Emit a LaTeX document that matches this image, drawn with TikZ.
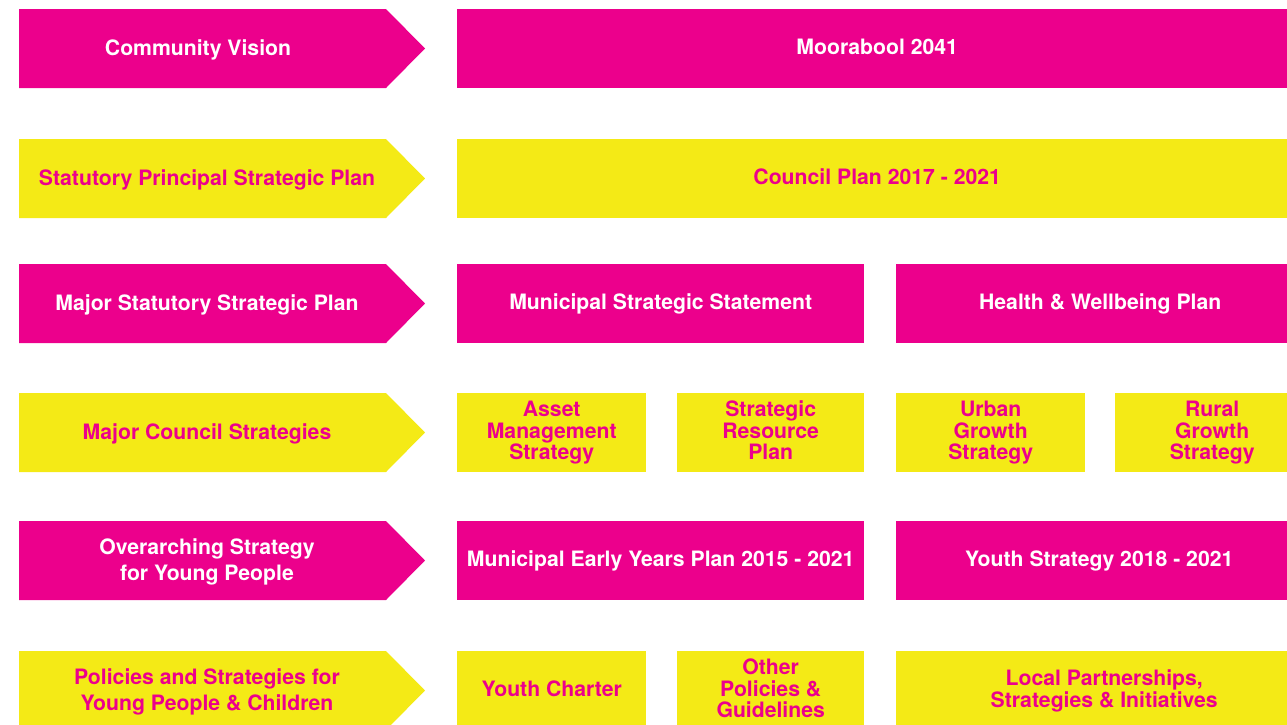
\documentclass[tikz,border=0pt]{standalone}
\usepackage{fontspec}
\setmainfont{TeX Gyre Heros}
\usetikzlibrary{positioning}

\definecolor{moormagenta}{HTML}{EC008C}
\definecolor{mooryellow}{HTML}{F4EA16}

\begin{document}
\begin{tikzpicture}[x=1pt, y=-1pt,
    lvl/.style={font=\fontsize{21.2}{26}\selectfont\bfseries, align=center, inner sep=0pt},
    box/.style={font=\fontsize{21.2}{21.5}\selectfont\bfseries, align=center, inner sep=0pt,
                text depth=4.5pt, anchor=north west, minimum height=79},
    pink/.style={fill=moormagenta, text=white},
    yel/.style={fill=mooryellow, text=moormagenta}]
  \useasboundingbox (0,0) rectangle (1287,724);

  % level arrows down the left side
  \foreach \ty/\tx/\col/\nm/\txt in {
      9/198/pink/vision/{Community Vision},
      139/207/yel/principal/{Statutory Principal Strategic Plan},
      264/207/pink/statutory/{Major Statutory Strategic Plan},
      393/207/yel/council/{Major Council Strategies},
      521/207/pink/overarching/{Overarching Strategy\\for Young People},
      651/207/yel/policies/{Policies and Strategies for\\Young People \& Children}} {
    \fill[\col] (19,\ty) -- (386,\ty) -- (425,\ty+39.5) -- (386,\ty+79) -- (19,\ty+79) -- cycle;
    \node[lvl, \col, fill=none] (\nm) at (\tx,\ty+41) {\txt};
  }

  % plans and strategies
  \node[box, pink, minimum width=840] (moorabool) at (457,9) {Moorabool 2041};
  \node[box, yel, minimum width=840] (councilplan) at (457,139) {Council Plan 2017 - 2021};

  \node[box, pink, minimum width=407] (mss) at (457,264) {Municipal Strategic Statement};
  \node[box, pink, minimum width=408] (health) at (896,264) {Health \& Wellbeing Plan};

  \node[box, yel, minimum width=189] (asset) at (457,393) {Asset\\Management\\Strategy};
  \node[box, yel, minimum width=187] (resource) at (677,393) {Strategic\\Resource\\Plan};
  \node[box, yel, minimum width=189] (urban) at (896,393) {Urban\\Growth\\Strategy};
  \node[box, yel, minimum width=194] (rural) at (1115,393) {Rural\\Growth\\Strategy};

  \node[box, pink, minimum width=407] (earlyyears) at (457,521) {Municipal Early Years Plan 2015 - 2021};
  \node[box, pink, minimum width=406] (youthstrat) at (896,521) {Youth Strategy 2018 - 2021};

  \node[box, yel, minimum width=189] (charter) at (457,651) {Youth Charter};
  \node[box, yel, minimum width=187] (other) at (677,651) {Other\\Policies \&\\Guidelines};
  \node[box, yel, minimum width=416] (local) at (896,651) {Local Partnerships,\\Strategies \& Initiatives};
\end{tikzpicture}
\end{document}
